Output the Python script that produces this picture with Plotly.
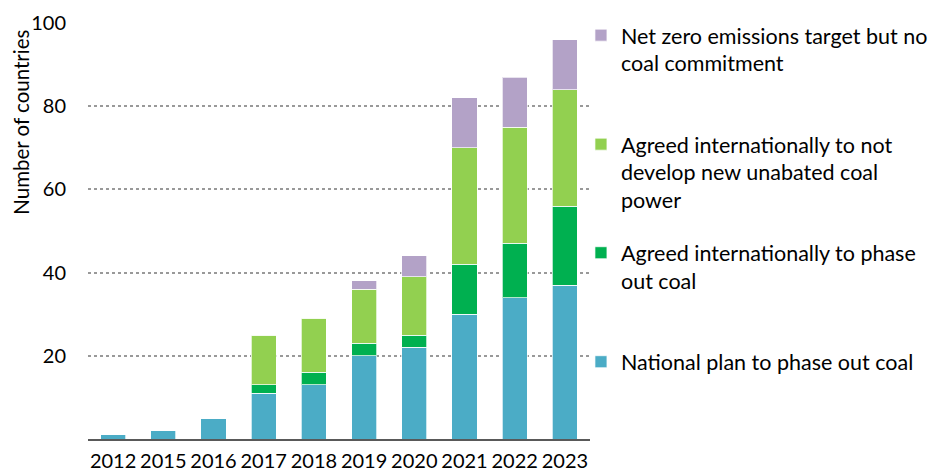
import plotly.graph_objects as go

years = ["2012", "2015", "2016", "2017", "2018", "2019", "2020", "2021", "2022", "2023"]
national_plan = [1, 2, 5, 11, 13, 20, 22, 30, 34, 37]
intl_phase_out = [0, 0, 0, 2, 3, 3, 3, 12, 13, 19]
intl_no_new = [0, 0, 0, 12, 13, 13, 14, 28, 28, 28]
net_zero_only = [0, 0, 0, 0, 0, 2, 5, 12, 12, 12]

series = [
    ("National plan to phase out coal", national_plan, "#4BACC6", "legend4"),
    ("Agreed internationally to phase<br>out coal", intl_phase_out, "#00B050", "legend3"),
    ("Agreed internationally to not<br>develop new unabated coal<br>power", intl_no_new, "#92D050", "legend2"),
    ("Net zero emissions target but no<br>coal commitment", net_zero_only, "#B3A2C7", "legend"),
]

FONT = "Lato, Calibri, sans-serif"

fig = go.Figure()
for name, vals, color, leg in series:
    fig.add_trace(go.Bar(
        x=years, y=vals, name=name, legend=leg,
        marker=dict(color=color, line=dict(color="rgba(255,255,255,0.7)", width=1)),
    ))

def legend_at(y):
    return dict(x=0.982, y=y, xanchor="left", yanchor="top", valign="top",
                font=dict(family=FONT, size=21.5, color="#000"), bgcolor="rgba(0,0,0,0)")

# the page body has an 8px margin, so margins are offset by it
fig.update_layout(
    width=942, height=466,
    showlegend=True,
    barmode="stack", bargap=0.5,
    plot_bgcolor="white", paper_bgcolor="white",
    margin=dict(l=80, r=360, t=15, b=35, autoexpand=False),
    font=dict(family=FONT, size=20, color="#000"),
    legend=legend_at(1.02),
    legend2=legend_at(0.758),
    legend3=legend_at(0.497),
    legend4=legend_at(0.235),
    xaxis=dict(showline=True, linecolor="#595959", linewidth=1.5, ticks="",
               tickfont=dict(size=20), showgrid=False, ticklabelstandoff=3),
    yaxis=dict(range=[0, 100], tickvals=[20, 40, 60, 80, 100], showgrid=True,
               gridcolor="#999", griddash="dot", gridwidth=1.5, zeroline=False,
               showline=False, ticklabelstandoff=21, tickfont=dict(size=20)),
    annotations=[dict(text="Number of countries", textangle=-90, xref="paper", yref="paper",
                      x=-0.134, y=0.762, xanchor="center", yanchor="middle", showarrow=False,
                      font=dict(family=FONT, size=20.5, color="#000"))],
)

fig.write_html("out.html")
